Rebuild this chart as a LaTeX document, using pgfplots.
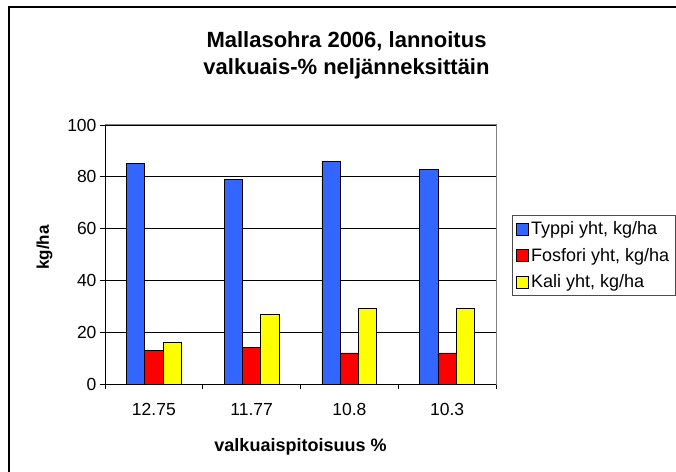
\documentclass[border=0pt]{standalone}
\usepackage{pgfplots}
\pgfplotsset{compat=1.18}
\usepackage{fontspec}
\setmainfont{Liberation Sans}
\definecolor{typpi}{RGB}{51,102,255}
\definecolor{fosfori}{RGB}{255,0,0}
\definecolor{kali}{RGB}{255,255,0}
\begin{document}
\begin{tikzpicture}
\useasboundingbox (0,0) rectangle (676pt,471pt);
% kaavion reunus (oikea ja ala reuna jaavat kuvan ulkopuolelle)
\draw[line width=1.2pt] (9pt,-20pt) rectangle (720pt,464pt);
\node[font=\fontsize{22}{26}\selectfont\bfseries, anchor=base] at (346.5pt,423pt) {Mallasohra 2006, lannoitus};
\node[font=\fontsize{22}{26}\selectfont\bfseries, anchor=base] at (346.5pt,396pt) {valkuais-\% neljänneksittäin};
\begin{axis}[
  at={(105pt,87pt)}, anchor=south west,
  scale only axis, width=391pt, height=259pt,
  ybar=0pt, bar width=18.3pt,
  xmin=-0.5, xmax=3.5, ymin=0, ymax=100,
  xtick={0,1,2,3}, xticklabels={12.75,11.77,10.8,10.3},
  minor xtick={-0.5,0.5,1.5,2.5,3.5},
  ytick={0,20,40,60,80,100},
  tick align=outside, tick pos=left,
  major tick length=5pt, minor tick length=5pt,
  major x tick style={draw=none},
  minor x tick style={black, line width=0.8pt},
  ytick style={black, line width=0.8pt},
  ymajorgrids, major grid style={black, line width=0.7pt},
  axis line style={gray, line width=1pt},
  /pgf/number format/assume math mode=true,
  tick label style={font=\fontsize{17.5}{20}\selectfont},
  xticklabel style={yshift=-11pt},
  xlabel={valkuaispitoisuus \%},
  xlabel style={font=\fontsize{18}{21}\selectfont\bfseries, yshift=-16pt},
  ylabel={kg/ha},
  ylabel style={font=\fontsize{17}{20}\selectfont\bfseries, yshift=8pt, xshift=7pt},
  legend style={at={(axis description cs:1.041,0.652)}, anchor=north west,
    draw=black!70, line width=0.8pt, font=\fontsize{18}{21}\selectfont,
    row sep=8pt, inner sep=4pt, cells={anchor=west}},
  legend image code/.code={\draw[#1,/tikz/.cd,line width=0.6pt] (0pt,-6pt) rectangle (12pt,6pt);},
]
\addplot[fill=typpi, draw=black, line width=0.8pt] coordinates {(0,85) (1,79) (2,86) (3,83)};
\addplot[fill=fosfori, draw=black, line width=0.8pt] coordinates {(0,13) (1,14) (2,12) (3,12)};
\addplot[fill=kali, draw=black, line width=0.8pt] coordinates {(0,16) (1,27) (2,29) (3,29)};
\legend{{Typpi yht, kg/ha}, {Fosfori yht, kg/ha}, {Kali yht, kg/ha}}
\draw[black, line width=1pt] (rel axis cs:0,1) -- (rel axis cs:0,0) -- (rel axis cs:1,0);
\end{axis}
\end{tikzpicture}
\end{document}
